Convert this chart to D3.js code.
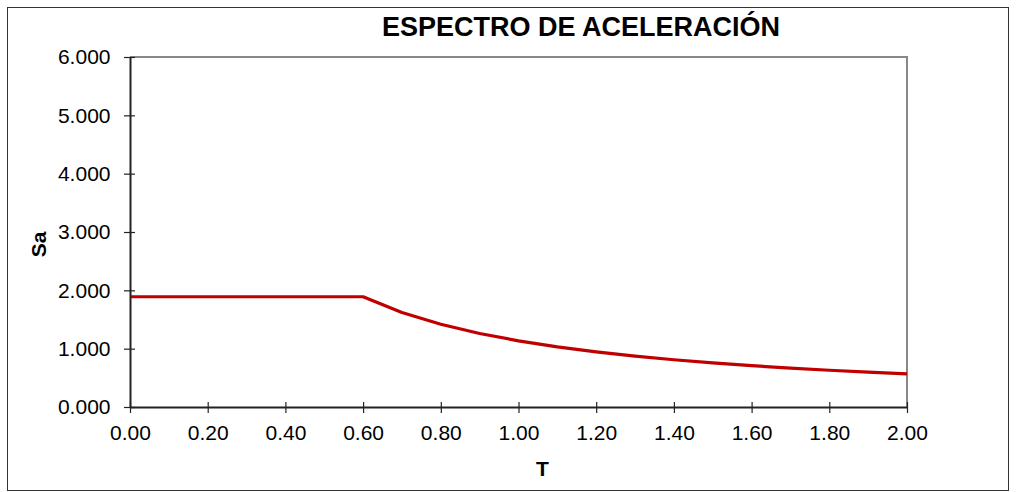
<!DOCTYPE html>
<html><head><meta charset="utf-8">
<script src="https://cdn.jsdelivr.net/npm/d3@7"></script>
<style>body{margin:0;background:#fff}svg{display:block}text{font-family:"Liberation Sans",Arial,sans-serif}</style>
</head><body><svg id="c" width="1016" height="492"></svg>
<script>
const periods = [0.0,0.1,0.2,0.3,0.4,0.5,0.6,0.7,0.8,0.9,1.0,1.1,1.2,1.3,1.4,1.5,1.6,1.7,1.8,1.9,2.0];
const saValues = [1.890,1.890,1.890,1.890,1.890,1.890,1.890,1.620,1.418,1.260,1.134,1.031,0.945,0.872,0.810,0.756,0.709,0.667,0.630,0.597,0.567];
const xTicks = [0,0.2,0.4,0.6,0.8,1.0,1.2,1.4,1.6,1.8,2.0];
const yTicks = [0,1,2,3,4,5,6];
const title = "ESPECTRO DE ACELERACIÓN";

const svg = d3.select("#c");
const L=130,R=907,T=57,B=407;
svg.append("rect").attr("x",7.5).attr("y",7.5).attr("width",1001).attr("height",483).attr("fill","none").attr("stroke","#333").attr("stroke-width",1);
const x=d3.scaleLinear().domain([0,2]).range([L,R]);
const y=d3.scaleLinear().domain([0,6]).range([B,T]);
svg.append("path").attr("d",`M${L},${T}H${R}V${B}`).attr("fill","none").attr("stroke","#888").attr("stroke-width",2);
svg.append("path").datum(periods.map((p,i)=>[p,saValues[i]]))
 .attr("d",d3.line().x(d=>x(d[0])).y(d=>y(d[1])))
 .attr("fill","none").attr("stroke","#c00000").attr("stroke-width",3.2).attr("stroke-linejoin","round");
const ya=svg.append("g").attr("transform",`translate(${L},0)`).call(d3.axisLeft(y).tickValues(yTicks).tickFormat(d3.format(".3f")).tickSize(6).tickSizeOuter(0));
const xa=svg.append("g").attr("transform",`translate(0,${B})`).call(d3.axisBottom(x).tickValues(xTicks).tickFormat(d3.format(".2f")).tickSize(6).tickSizeOuter(0));
[ya,xa].forEach(g=>{g.select(".domain").attr("stroke","#222").attr("stroke-width",2);g.selectAll(".tick line").attr("stroke","#222").attr("stroke-width",1.2);g.selectAll("text").attr("font-size",21).attr("fill","#000").attr("font-family","Liberation Sans, Arial, sans-serif");});
ya.selectAll(".tick line").attr("x1",5).attr("x2",-6);
ya.selectAll(".tick text").attr("x",-19.5);
xa.selectAll(".tick line").attr("y1",-5).attr("y2",6);
xa.selectAll(".tick text").attr("y",18);
svg.append("text").attr("x",581).attr("y",36).attr("text-anchor","middle").attr("font-size",27).attr("font-weight","bold").text(title);
svg.append("text").attr("x",542.5).attr("y",476).attr("text-anchor","middle").attr("font-size",21).attr("font-weight","bold").text("T");
svg.append("text").attr("transform","translate(46,244.5) rotate(-90)").attr("text-anchor","middle").attr("font-size",21).attr("font-weight","bold").text("Sa");
</script></body></html>
